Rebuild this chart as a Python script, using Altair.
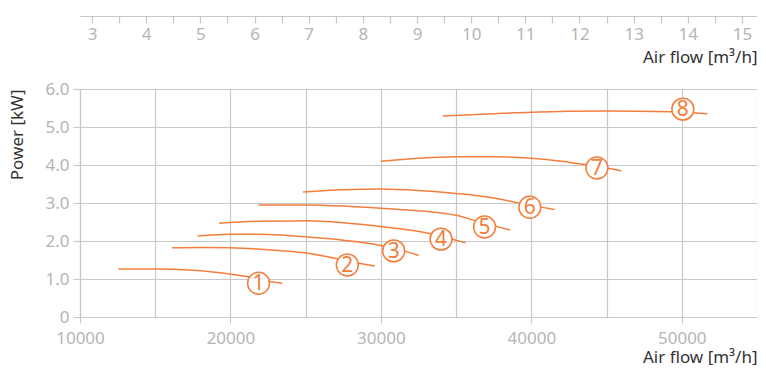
import altair as alt
import pandas as pd

ORANGE = "#f47d3b"
FONT = "Noto Sans"

# ---- data ----
curve_ids = ["1", "2", "3", "4", "5", "6", "7", "8"]

c1_x = [12550, 15000, 17500, 20000, 21200, 22700, 23450]
c1_y = [1.26, 1.26, 1.23, 1.13, 1.06, 0.93, 0.89]
c2_x = [16120, 18000, 20000, 22500, 24930, 27110, 28640, 29590]
c2_y = [1.82, 1.83, 1.82, 1.77, 1.69, 1.53, 1.41, 1.34]
c3_x = [17820, 20000, 22500, 25000, 27500, 30000, 31700, 32510]
c3_y = [2.13, 2.18, 2.17, 2.11, 2.02, 1.88, 1.72, 1.62]
c4_x = [19250, 22000, 25000, 27500, 30000, 33230, 35640]
c4_y = [2.47, 2.52, 2.53, 2.48, 2.38, 2.20, 1.95]
c5_x = [21870, 25000, 27500, 30000, 35000, 36300, 38590]
c5_y = [2.95, 2.95, 2.92, 2.86, 2.68, 2.53, 2.29]
c6_x = [24820, 27500, 30000, 32500, 35000, 37500, 39030, 41540]
c6_y = [3.29, 3.35, 3.37, 3.33, 3.25, 3.13, 3.01, 2.83]
c7_x = [30000, 32500, 35000, 37500, 40000, 42000, 43730, 45980]
c7_y = [4.10, 4.18, 4.22, 4.22, 4.18, 4.10, 4.00, 3.85]
c8_x = [34110, 37500, 40000, 45000, 49300, 51700]
c8_y = [5.29, 5.35, 5.39, 5.42, 5.40, 5.35]

curves_x = [c1_x, c2_x, c3_x, c4_x, c5_x, c6_x, c7_x, c8_x]
curves_y = [c1_y, c2_y, c3_y, c4_y, c5_y, c6_y, c7_y, c8_y]

label_x = [21870, 27770, 30850, 34000, 36890, 39900, 44360, 50070]
label_y = [0.89, 1.37, 1.74, 2.05, 2.37, 2.89, 3.92, 5.47]

x_domain = [10000, 55000]
x_ticks = list(range(10000, 55001, 5000))
y_domain = [0, 6]
y_ticks = [0, 1, 2, 3, 4, 5, 6]
top_ticks = [3 + 0.5 * i for i in range(25)]
M3H_PER_M3S = 3600

# ---- tables ----
rows = []
for cid, xs, ys in zip(curve_ids, curves_x, curves_y):
    for i, (xv, yv) in enumerate(zip(xs, ys)):
        rows.append({"curve": cid, "flow": xv, "power": yv, "order": i})
df_lines = pd.DataFrame(rows)
df_labels = pd.DataFrame({"curve": curve_ids, "flow": label_x, "power": label_y})

y_axis = alt.Axis(
    values=y_ticks,
    tickCount=7,
    labelExpr="datum.value == 0 ? '0' : format(datum.value, '.1f')",
    labelOverlap=False,
    labelFlush=False,
    title="Power [kW]",
    titleAnchor="end",
    grid=True,
    tickSize=7,
    labelPadding=4,
    titlePadding=18,
)
y_enc = alt.Y("power:Q", scale=alt.Scale(domain=y_domain, nice=False, zero=False), axis=y_axis)

x_axis = alt.Axis(
    orient="bottom",
    values=x_ticks,
    labelExpr="datum.value % 10000 == 0 && datum.value < 55000 ? format(datum.value, 'd') : ''",
    tickOpacity={"condition": {"test": "datum.value % 10000 == 0 && datum.value < 55000", "value": 1}, "value": 0},
    labelFlush=False,
    labelOverlap=False,
    grid=True,
    tickSize=6,
    labelPadding=7,
    title="Air flow [m³/h]",
    titleAnchor="end",
    titlePadding=3,
)
x_main = alt.X("flow:Q", scale=alt.Scale(domain=x_domain, nice=False, zero=False), axis=x_axis)

base = alt.Chart(df_lines)
lines = base.mark_line(color=ORANGE, strokeWidth=1.5, interpolate="monotone").encode(
    x=x_main, y=y_enc, detail="curve:N", order="order:Q"
)

lab = alt.Chart(df_labels)
circles = lab.mark_point(
    shape="circle", filled=True, fill="white", stroke=ORANGE, strokeWidth=1.5, size=480, opacity=1
).encode(x=x_main, y=y_enc)
texts = lab.mark_text(
    font=FONT, fontSize=21, color=ORANGE, align="center", baseline="middle", dy=1
).encode(x=x_main, y=y_enc, text="curve:N")

main = alt.layer(lines, circles, texts)

top = base.transform_calculate(flow_s=f"datum.flow / {M3H_PER_M3S}").mark_point(opacity=0).encode(
    x=alt.X(
        "flow_s:Q",
        scale=alt.Scale(domain=[x_domain[0] / M3H_PER_M3S, x_domain[1] / M3H_PER_M3S], nice=False, zero=False),
        axis=alt.Axis(
            orient="bottom",
            offset=-301,
            values=top_ticks,
            labelExpr="datum.value % 1 == 0 ? format(datum.value, 'd') : ''",
            labelFlush=False,
            labelOverlap=False,
            grid=False,
            tickSize=7,
            labelPadding=3,
            title="Air flow [m³/h]",
            titleAnchor="end",
            titlePadding=7,
        ),
    ),
    y=y_enc,
)

chart = (
    alt.layer(main, top)
    .resolve_scale(x="independent")
    .properties(width=677, height=228, padding={"left": 0, "top": 7, "right": 0, "bottom": 0})
    .configure_view(stroke=None)
    .configure_axis(
        labelFont=FONT,
        labelFontSize=17,
        labelColor="#b5b5b5",
        titleFont=FONT,
        titleFontSize=17,
        titleFontWeight="normal",
        titleColor="#333333",
        gridColor="#c8c8c8",
        gridWidth=1.2,
        domainColor="#c8c8c8",
        domainWidth=1.2,
        tickColor="#c8c8c8",
        tickWidth=1.2,
    )
)

chart.save("out.html", embed_options={"renderer": "svg", "actions": False})
